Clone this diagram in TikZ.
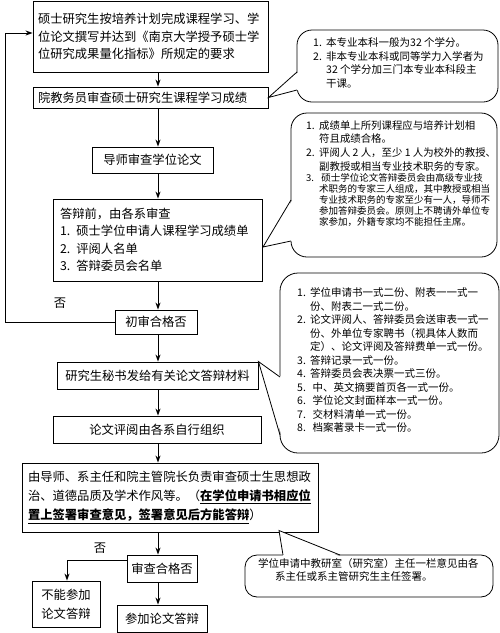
\documentclass[tikz,border=0pt]{standalone}
\usepackage{fontspec}
\setmainfont{Noto Sans CJK SC}
\usetikzlibrary{arrows.meta,calc}
\newcommand{\mfont}{\fontsize{12.3}{17.5}\selectfont}
\newcommand{\cfont}{\fontsize{10.5}{13.5}\selectfont}
\newcommand{\itm}[1]{\makebox[13pt][l]{#1}}
\newcommand{\ind}{\hspace*{13pt}}
\begin{document}
\begin{tikzpicture}[x=1pt,y=-1pt,
  box/.style={draw,line width=0.9pt,inner sep=0pt,font=\mfont,align=center},
  lbox/.style={box,align=left},
  arr/.style={-{Stealth[length=7pt,width=5pt]},line width=0.9pt},
  cbody/.style={draw,line width=0.8pt,fill=white,inner sep=0pt},
  ctext/.style={inner sep=0pt,font=\cfont,align=left,anchor=north west},
  cline/.style={line width=0.8pt,line join=miter},
  lbl/.style={inner sep=0pt,font=\mfont}]
\useasboundingbox (0,0) rectangle (500,633);
\fill[white] (0,0) rectangle (500,633);

% main boxes
\node[lbox,minimum width=235pt,minimum height=71pt,text width=225pt] (b1) at (150.5,36.5)
 {硕士研究生按培养计划完成课程学习、学\\位论文撰写并达到《南京大学授予硕士学\\位研究成果量化指标》所规定的要求};
\node[lbox,minimum width=235pt,minimum height=21pt,text width=225pt] (b2) at (150.5,97.5)
 {院教务员审查硕士研究生课程学习成绩};
\node[box,minimum width=121pt,minimum height=26pt] (b3) at (152.5,160) {导师审查学位论文};
\node[lbox,minimum width=209pt,minimum height=82pt,text width=195pt] (b4) at (157.5,240)
 {答辩前，由各系审查\\1. 硕士学位申请人课程学习成绩单\\2. 评阅人名单\\3. 答辩委员会名单};
\node[box,minimum width=82pt,minimum height=24pt] (b5) at (156,322) {初审合格否};
\node[box,minimum width=201pt,minimum height=27pt] (b6) at (157.5,375.5) {研究生秘书发给有关论文答辩材料};
\node[box,minimum width=208pt,minimum height=27pt] (b7) at (157,429.5) {论文评阅由各系自行组织};
\node[lbox,minimum width=296pt,minimum height=69pt,text width=284pt,font=\fontsize{12.3}{19}\selectfont] (b8) at (170,497.5)
 {由导师、系主任和院主管院长负责审查硕士生思想政\\治、道德品质及学术作风等。（\underline{\textbf{在学位申请书相应位}}\\\underline{\textbf{置上签署审查意见，签署意见后方能答辩}}）};
\node[box,minimum width=70pt,minimum height=27pt] (b9) at (162,568.5) {审查合格否};
\node[box,minimum width=68pt,minimum height=46pt,font=\fontsize{12.3}{19}\selectfont] (b10) at (66,604) {不能参加\\论文答辩};
\node[box,minimum width=90pt,minimum height=27pt] (b11) at (162,618.5) {参加论文答辩};

% connectors
\coordinate (col) at (158,0);
\draw[arr] (b1.south -| col) -- (b2.north -| col);
\draw[arr] (b2.south -| col) -- (b3.north -| col);
\draw[arr] (b3.south -| col) -- (b4.north -| col);
\draw[arr] (b4.south -| col) -- (b5.north -| col);
\draw[arr] (b5.south -| col) -- (b6.north -| col);
\draw[arr] (b6.south -| col) -- (b7.north -| col);
\draw[arr] (b7.south -| col) -- (b8.north -| col);
\draw[arr] (b8.south -| col) -- (b9.north -| col);
\draw[arr] (b9.south -| col) -- (b11.north -| col);
\coordinate (lp1) at (5,322);
\coordinate (lp2) at (5,33);
\draw[arr] (b5.west) -- (b5.west -| lp1) -- (lp2) -- (lp2 -| b1.west);
\node[lbl] (no1) at (60,303) {否};
\coordinate (nb) at (67,560);
\draw[arr] (b9.west |- nb) -- (nb) -- (b10.north -| nb);
\node[lbl] (no2) at (100,548) {否};

% callout 1
\node[cbody,rounded corners=15pt,minimum width=201pt,minimum height=72pt] (c1) at (397.5,66) {};
\coordinate (c1a) at (297,72); \coordinate (c1b) at (297,90);
\fill[white] ($(c1a)+(1.5,0)$) -- (b2.east) -- ($(c1b)+(1.5,0)$) -- cycle;
\draw[cline] (c1a) -- (b2.east) -- (c1b);
\node[ctext] (t1) at (313,37.5)
 {\itm{1.}本专业本科一般为32 个学分。\\\itm{2.}非本专业本科或同等学力入学者为\\\ind 32 个学分加三门本专业本科段主\\\ind 干课。};

% callout 2
\node[cbody,rounded corners=16pt,minimum width=206pt,minimum height=144pt] (c2) at (394,185) {};
\coordinate (c2a) at (291,200); \coordinate (c2b) at (291,241);
\coordinate (c2t) at (263,247);
\fill[white] ($(c2a)+(1.5,0)$) -- (c2t) -- ($(c2b)+(1.5,0)$) -- cycle;
\draw[cline] (c2a) -- (c2t) -- (c2b);
\node[ctext,font=\fontsize{10.4}{13.8}\selectfont] (t2) at (306,120)
 {\itm{1.}成绩单上所列课程应与培养计划相\\\ind 符且成绩合格。\\\itm{2.}评阅人 2 人，至少 1 人为校外的教授、\\\ind 副教授或相当专业技术职务的专家。};
\node[ctext,font=\fontsize{9.5}{11}\selectfont] (t2b) at (306,173)
 {\itm{3.}\ 硕士学位论文答辩委员会由高级专业技\\\ind 术职务的专家三人组成，其中教授或相当\\\ind 专业技术职务的专家至少有一人，导师不\\\ind 参加答辩委员会。原则上不聘请外单位专\\\ind 家参加，外籍专家均不能担任主席。};

% callout 3
\node[cbody,rounded corners=18pt,minimum width=219pt,minimum height=180pt] (c3) at (389.5,363) {};
\coordinate (c3a) at (280,377); \coordinate (c3b) at (280,435);
\fill[white] ($(c3a)+(1.5,0)$) -- (b6.north east) -- ($(c3b)+(1.5,0)$) -- cycle;
\draw[cline] (c3a) -- (b6.north east) -- (c3b);
\node[ctext] (t3) at (297,287.5)
 {\itm{1.}学位申请书一式二份、附表一一式一\\\ind 份、附表二一式二份。\\\itm{2.}论文评阅人、答辩委员会送审表一式一\\\ind 份、外单位专家聘书（视具体人数而\\\ind 定）、论文评阅及答辩费单一式一份。\\\itm{3.}答辩记录一式一份。\\\itm{4.}答辩委员会表决票一式三份。\\\itm{5.}\ 中、英文摘要首页各一式一份。\\\itm{6.}\ 学位论文封面样本一式一份。\\\itm{7.}\ 交材料清单一式一份。\\\itm{8.}\ 档案著录卡一式一份。};

% callout 4
\node[cbody,rounded corners=12pt,minimum width=248pt,minimum height=42pt] (c4) at (369,576) {};
\coordinate (c4a) at (283,555); \coordinate (c4b) at (340,555);
\coordinate (c4t) at (279,530.5);
\fill[white] ($(c4a)+(0,1.5)$) -- (c4t) -- ($(c4b)+(0,1.5)$) -- cycle;
\draw[cline] (c4a) -- (c4t) -- (c4b);
\node[ctext,font=\fontsize{10.5}{13}\selectfont] (t4) at (258,558)
 {学位申请中教研室（研究室）主任一栏意见由各\\\hspace*{17pt}系主任或系主管研究生主任签署。};
\end{tikzpicture}
\end{document}
